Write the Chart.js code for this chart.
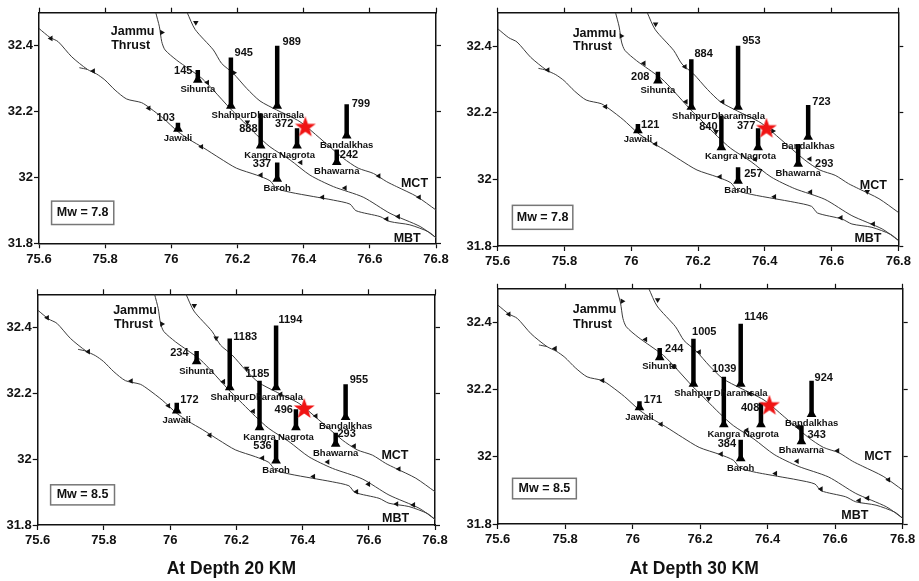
<!DOCTYPE html>
<html>
<head>
<meta charset="utf-8">
<title>Station PGA maps</title>
<script src="https://cdn.jsdelivr.net/npm/chart.js@4"></script>
<style>
  html, body { margin: 0; background: #fff; overflow: hidden; }
  canvas { position: absolute; }
</style>
</head>
<body>
<canvas id="c0"></canvas>
<canvas id="c1"></canvas>
<canvas id="c2"></canvas>
<canvas id="c3"></canvas>
<script>
// axes
const xTicks = [75.6, 75.8, 76, 76.2, 76.4, 76.6, 76.8];
const xTickLabels = ['75.6', '75.8', '76', '76.2', '76.4', '76.6', '76.8'];
const yTicks = [31.8, 32, 32.2, 32.4];
const yTickLabels = ['31.8', '32', '32.2', '32.4'];

// stations, same order in every value list below
const stationNames = ['Sihunta', 'Jawali', 'Shahpur', 'Dharamsala', 'Kangra', 'Nagrota', 'Bandalkhas', 'Bhawarna', 'Baroh'];
const stationLon = [76.08, 76.02, 76.18, 76.32, 76.27, 76.38, 76.53, 76.50, 76.32];
const stationLat = [32.296, 32.147, 32.217, 32.217, 32.096, 32.096, 32.127, 32.046, 31.995];
const epicenterLon = [76.405];
const epicenterLat = [32.152];

// printed values and top of each column, per panel
const values78d20 = [145, 103, 945, 989, 888, 372, 799, 242, 337];
const tops78d20 = [32.326, 32.166, 32.364, 32.400, 32.194, 32.149, 32.222, 32.085, 32.045];
const values78d30 = [208, 121, 884, 953, 840, 377, 723, 293, 257];
const tops78d30 = [32.323, 32.166, 32.360, 32.401, 32.191, 32.153, 32.223, 32.106, 32.036];
const values85d20 = [234, 172, 1183, 1194, 1185, 496, 955, 293, 536];
const tops85d20 = [32.328, 32.171, 32.366, 32.405, 32.238, 32.151, 32.227, 32.080, 32.058];
const values85d30 = [244, 171, 1005, 1146, 1039, 408, 924, 343, 384];
const tops85d30 = [32.324, 32.165, 32.351, 32.396, 32.238, 32.161, 32.226, 32.094, 32.051];

// where the printed values sit
const valueLon78d20 = [76.036, 75.983, 76.219, 76.364, 76.233, 76.341, 76.573, 76.537, 76.274];
const valueLat78d20 = [32.324, 32.180, 32.377, 32.410, 32.146, 32.162, 32.222, 32.069, 32.040];
const valueLon78d30 = [76.027, 76.057, 76.217, 76.360, 76.231, 76.344, 76.570, 76.578, 76.366];
const valueLat78d30 = [32.308, 32.163, 32.375, 32.414, 32.157, 32.159, 32.233, 32.045, 32.015];
const valueLon85d20 = [76.028, 76.058, 76.227, 76.363, 76.264, 76.343, 76.570, 76.533, 76.279];
const valueLat85d20 = [32.323, 32.178, 32.370, 32.422, 32.258, 32.149, 32.239, 32.076, 32.041];
const valueLon85d30 = [76.123, 76.060, 76.212, 76.366, 76.271, 76.348, 76.566, 76.545, 76.279];
const valueLat85d30 = [32.320, 32.168, 32.372, 32.415, 32.260, 32.145, 32.236, 32.065, 32.038];

// fault traces
const mbtLon = [75.6, 75.633, 75.658, 75.699, 75.746, 75.774, 75.799, 75.83, 75.865, 75.91, 75.936, 75.976, 76.02, 76.056, 76.097, 76.147, 76.197, 76.258, 76.298, 76.318, 76.359, 76.429, 76.49, 76.54, 76.558, 76.631, 76.661, 76.721, 76.777, 76.8];
const mbtLat = [32.452, 32.425, 32.412, 32.366, 32.328, 32.314, 32.296, 32.265, 32.238, 32.227, 32.21, 32.179, 32.139, 32.114, 32.09, 32.058, 32.028, 32.007, 31.99, 31.967, 31.955, 31.942, 31.931, 31.919, 31.899, 31.881, 31.866, 31.856, 31.835, 31.817];
const stubLon = [75.722, 75.746];
const stubLat = [32.333, 32.328];
const jammuLon = [75.953, 75.964, 75.971, 75.981, 76.016, 76.051, 76.092, 76.127, 76.177, 76.218, 76.258, 76.298, 76.359, 76.419, 76.49, 76.58, 76.661, 76.752, 76.8];
const jammuLat = [32.5, 32.457, 32.412, 32.387, 32.356, 32.331, 32.301, 32.265, 32.21, 32.169, 32.129, 32.093, 32.053, 32.007, 31.972, 31.94, 31.891, 31.851, 31.817];
const mctLon = [76.048, 76.072, 76.127, 76.152, 76.187, 76.228, 76.268, 76.318, 76.389, 76.449, 76.52, 76.565, 76.611, 76.651, 76.681, 76.742, 76.8];
const mctLat = [32.5, 32.449, 32.387, 32.346, 32.316, 32.27, 32.232, 32.205, 32.169, 32.119, 32.058, 32.028, 32.012, 31.987, 31.972, 31.942, 31.901];

// thrust teeth on the traces, per panel
const teethLon78d20 = [75.636, 75.764, 75.932, 76.091, 76.271, 76.457, 76.651, 75.971, 76.109, 76.23, 76.391, 76.525, 76.686, 76.074, 76.189, 76.627, 76.749];
const teethLat78d20 = [32.422, 32.323, 32.21, 32.093, 32.007, 31.94, 31.874, 32.44, 32.288, 32.168, 32.045, 31.968, 31.881, 32.47, 32.318, 32.004, 31.94];
const teethDir78d20 = [-90, -90, -90, -90, -90, -90, -90, 90, -90, 180, -90, -90, -90, 180, 90, -90, -90];
const teethLon78d30 = [75.75, 75.923, 76.073, 76.266, 76.429, 76.628, 75.97, 76.038, 76.164, 76.254, 76.371, 76.537, 76.725, 76.073, 76.161, 76.274, 76.424, 76.535, 76.707];
const teethLat78d30 = [32.328, 32.218, 32.106, 32.008, 31.948, 31.885, 32.43, 32.348, 32.233, 32.143, 32.06, 31.962, 31.866, 32.466, 32.338, 32.233, 32.145, 32.061, 31.963];
const teethDir78d30 = [-90, -90, -90, -90, -90, -90, 90, -90, -90, 180, -90, -90, -90, 180, -90, -90, 90, -90, 180];
const teethLon85d20 = [75.629, 75.753, 75.882, 75.995, 76.12, 76.279, 76.433, 76.563, 76.684, 75.975, 76.161, 76.251, 76.476, 76.599, 76.735, 76.073, 76.139, 76.231, 76.334, 76.44, 76.556, 76.691];
const teethLat85d20 = [32.429, 32.326, 32.237, 32.162, 32.072, 32.003, 31.947, 31.901, 31.864, 32.41, 32.235, 32.145, 31.991, 31.924, 31.861, 32.466, 32.367, 32.275, 32.197, 32.131, 32.04, 31.97];
const teethDir85d20 = [-90, -90, -90, -90, -90, -90, -90, -90, -90, 90, -90, -90, -90, -90, -90, 180, 180, 180, -90, -90, -90, -90];
const teethLon85d30 = [75.633, 75.77, 75.911, 76.084, 76.262, 76.423, 76.558, 76.671, 75.969, 76.038, 76.121, 76.225, 76.338, 76.487, 76.696, 76.074, 76.197, 76.348, 76.49, 76.607, 76.758];
const teethLat85d30 = [32.424, 32.322, 32.227, 32.097, 32.008, 31.95, 31.904, 31.87, 32.463, 32.349, 32.269, 32.173, 32.079, 31.987, 31.877, 32.467, 32.312, 32.188, 32.089, 32.018, 31.932];
const teethDir85d30 = [-90, -90, -90, -90, -90, -90, -90, -90, 90, -90, -90, 180, -90, -90, -90, 180, -90, -90, -90, -90, -90];

const sans = '"Liberation Sans", Arial, sans-serif';

function pts(lons, lats) {
    return lons.map((lon, i) => ({ x: lon, y: lats[i] }));
}

function faultLine(lons, lats) {
    return { data: pts(lons, lats), showLine: true, pointRadius: 0, borderColor: '#3c3c3c', borderWidth: 1, tension: 0.25 };
}

// filled red star, the built in 'star' style is only an outline
function starImage(size) {
    const c = document.createElement('canvas');
    c.width = c.height = size;
    const g = c.getContext('2d');
    const r = size / 2;
    g.fillStyle = '#f01414';
    g.beginPath();
    for (let i = 0; i < 10; i++) {
        const rad = i % 2 ? r * 0.4 : r;
        const a = -Math.PI / 2 + i * Math.PI / 5;
        g.lineTo(r + rad * Math.cos(a), r + rad * Math.sin(a));
    }
    g.closePath();
    g.fill();
    return c;
}

// station names, printed values, fault names, Mw box and caption
const mapText = {
    id: 'mapText',
    afterDatasetsDraw(chart, args, o) {
        const g = chart.ctx;
        const px = v => chart.scales.x.getPixelForValue(v);
        const py = v => chart.scales.y.getPixelForValue(v);
        g.save();
        g.textAlign = 'center';
        g.textBaseline = 'middle';
        g.fillStyle = '#111';

        g.font = 'bold 9.5px ' + sans;
        stationNames.forEach((name, i) => {
            g.fillText(name, px(stationLon[i]), py(stationLat[i]) + 9.5);
        });

        g.font = 'bold 11px ' + sans;
        o.values.forEach((v, i) => {
            g.fillText(String(v), px(o.valueLon[i]), py(o.valueLat[i]));
        });

        g.font = 'bold 12.5px ' + sans;
        o.faultNames.forEach(f => g.fillText(f[0], px(f[1]), py(f[2])));

        const b = o.box;
        g.strokeStyle = '#777';
        g.lineWidth = 1.5;
        g.fillStyle = '#fff';
        g.fillRect(px(b[0]), py(b[3]), px(b[1]) - px(b[0]), py(b[2]) - py(b[3]));
        g.strokeRect(px(b[0]), py(b[3]), px(b[1]) - px(b[0]), py(b[2]) - py(b[3]));
        g.fillStyle = '#111';
        g.fillText(o.mw, (px(b[0]) + px(b[1])) / 2, (py(b[2]) + py(b[3])) / 2);

        if (o.caption) {
            g.font = 'bold 17.5px ' + sans;
            g.fillText(o.caption[0], px(o.caption[1]), py(o.caption[2]));
        }
        g.restore();
    }
};

function axisOptions(position, ticks, labels, showLabels, fit) {
    const isX = ticks === xTicks;
    return {
        type: 'linear',
        position: position,
        min: isX ? 75.6 : 31.8,
        max: isX ? 76.8 : 32.5,
        afterBuildTicks: axis => { axis.ticks = ticks.map(v => ({ value: v })); },
        afterFit: fit,
        border: { color: '#111', width: 1.5 },
        grid: { drawOnChartArea: false, drawTicks: true, tickLength: 5, tickWidth: 1.2, tickColor: '#111' },
        ticks: {
            display: showLabels,
            color: '#111',
            padding: isX ? 3 : 1,
            maxRotation: 0,
            autoSkip: false,
            font: { family: sans, size: 13, weight: 'bold' },
            callback: (v, i) => labels[i]
        }
    };
}

function drawPanel(id, canvasBox, plot, cfg) {
    const el = document.getElementById(id);
    el.style.left = canvasBox[0] + 'px';
    el.style.top = canvasBox[1] + 'px';
    el.width = canvasBox[2];
    el.height = canvasBox[3];

    const columns = stationNames.map((name, i) => ({
        data: pts([stationLon[i], stationLon[i]], [stationLat[i], cfg.tops[i]]),
        showLine: true,
        pointRadius: 0,
        borderColor: '#000',
        borderWidth: 4.5,
        borderCapStyle: 'butt'
    }));

    new Chart(el, {
        type: 'scatter',
        data: {
            datasets: [
                { data: pts(epicenterLon, epicenterLat), pointStyle: starImage(22), pointRadius: 11 },
                { data: pts(stationLon, stationLat), pointStyle: 'triangle', pointRadius: 5.6, backgroundColor: '#000', borderColor: '#000', borderWidth: 0 },
                ...columns,
                { data: pts(cfg.teethLon, cfg.teethLat), pointStyle: 'triangle', pointRadius: 3.2, pointRotation: cfg.teethDir, backgroundColor: '#111', borderColor: '#111', borderWidth: 0 },
                faultLine(mbtLon, mbtLat),
                faultLine(stubLon, stubLat),
                faultLine(jammuLon, jammuLat),
                faultLine(mctLon, mctLat)
            ]
        },
        options: {
            responsive: false,
            animation: false,
            layout: { padding: 0, autoPadding: false },
            scales: {
                x: axisOptions('bottom', xTicks, xTickLabels, true, s => { s.height = canvasBox[1] + canvasBox[3] - plot[3]; }),
                x2: axisOptions('top', xTicks, xTickLabels, false, s => { s.height = plot[1] - canvasBox[1]; }),
                y: axisOptions('left', yTicks, yTickLabels, true, s => { s.width = plot[0] - canvasBox[0]; }),
                y2: axisOptions('right', yTicks, yTickLabels, false, s => { s.width = canvasBox[0] + canvasBox[2] - plot[2]; })
            },
            plugins: {
                legend: { display: false },
                tooltip: { enabled: false },
                mapText: cfg
            }
        },
        plugins: [mapText]
    });
}

drawPanel('c0', [0, 0, 460, 280], [39, 12.7, 436, 243.3], {
    values: values78d20, tops: tops78d20, valueLon: valueLon78d20, valueLat: valueLat78d20,
    teethLon: teethLon78d20, teethLat: teethLat78d20, teethDir: teethDir78d20,
    faultNames: [['Jammu', 75.883, 32.444], ['Thrust', 75.877, 32.401], ['MCT', 76.735, 31.982], ['MBT', 76.713, 31.815]],
    box: [75.638, 75.826, 31.857, 31.928], mw: 'Mw = 7.8'
});
drawPanel('c1', [460, 0, 459, 280], [497.7, 12.7, 898.3, 246], {
    values: values78d30, tops: tops78d30, valueLon: valueLon78d30, valueLat: valueLat78d30,
    teethLon: teethLon78d30, teethLat: teethLat78d30, teethDir: teethDir78d30,
    faultNames: [['Jammu', 75.89, 32.438], ['Thrust', 75.884, 32.397], ['MCT', 76.725, 31.981], ['MBT', 76.709, 31.821]],
    box: [75.644, 75.825, 31.85, 31.922], mw: 'Mw = 7.8'
});
drawPanel('c2', [0, 280, 460, 301], [37.7, 294.3, 435, 525], {
    values: values85d20, tops: tops85d20, valueLon: valueLon85d20, valueLat: valueLat85d20,
    teethLon: teethLon85d20, teethLat: teethLat85d20, teethDir: teethDir85d20,
    faultNames: [['Jammu', 75.894, 32.45], ['Thrust', 75.889, 32.408], ['MCT', 76.679, 32.011], ['MBT', 76.681, 31.821]],
    box: [75.639, 75.832, 31.861, 31.922], mw: 'Mw = 8.5',
    caption: ['At Depth 20 KM', 76.185, 31.665]
});
drawPanel('c3', [460, 280, 459, 301], [497.7, 288.3, 902.7, 524], {
    values: values85d30, tops: tops85d30, valueLon: valueLon85d30, valueLat: valueLat85d30,
    teethLon: teethLon85d30, teethLat: teethLat85d30, teethDir: teethDir85d30,
    faultNames: [['Jammu', 75.887, 32.437], ['Thrust', 75.881, 32.395], ['MCT', 76.726, 32.001], ['MBT', 76.658, 31.824]],
    box: [75.644, 75.833, 31.875, 31.936], mw: 'Mw = 8.5',
    caption: ['At Depth 30 KM', 76.182, 31.665]
});
</script>
</body>
</html>
